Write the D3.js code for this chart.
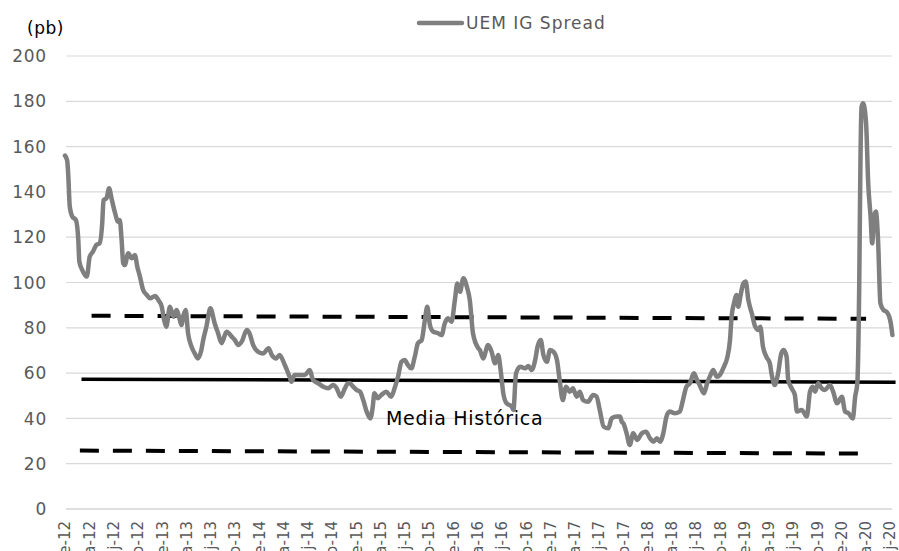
<!DOCTYPE html>
<html>
<head>
<meta charset="utf-8">
<script src="https://cdn.jsdelivr.net/npm/d3@7"></script>
<style>
  body { margin: 0; background: #fff; }
  svg { display: block; font-family: "DejaVu Sans", Verdana, sans-serif; }
</style>
</head>
<body>
<div id="content"></div>
<script>
var width = 899;
var height = 551;

// UEM IG spread (pb)
var dates = [
  "2012-01-01","2012-01-09","2012-01-13","2012-01-19","2012-01-29","2012-02-11","2012-02-20","2012-02-24",
  "2012-03-06","2012-03-23","2012-04-03","2012-04-15","2012-04-28","2012-05-10","2012-05-20","2012-05-25",
  "2012-06-05","2012-06-15","2012-06-24","2012-07-06","2012-07-19","2012-07-25","2012-08-01","2012-08-07",
  "2012-08-13","2012-08-26","2012-09-08","2012-09-20","2012-09-29","2012-10-09","2012-10-21","2012-11-04",
  "2012-11-16","2012-12-05","2012-12-17","2012-12-30","2013-01-08","2013-01-16","2013-01-30","2013-02-12",
  "2013-02-24","2013-03-05","2013-03-14","2013-03-22","2013-03-30","2013-04-08","2013-04-21","2013-05-03",
  "2013-05-15","2013-05-28","2013-06-04","2013-06-16","2013-07-01","2013-07-17","2013-07-30","2013-08-12",
  "2013-08-31","2013-09-19","2013-10-01","2013-10-14","2013-10-27","2013-11-15","2013-11-25","2013-12-09",
  "2013-12-28","2014-01-16","2014-02-05","2014-02-17","2014-03-06","2014-03-18","2014-04-07","2014-04-25",
  "2014-05-02","2014-05-14","2014-06-03","2014-06-21","2014-07-10","2014-07-22","2014-08-11","2014-08-30",
  "2014-09-17","2014-10-06","2014-10-19","2014-11-04","2014-11-19","2014-12-02","2014-12-08","2014-12-20",
  "2015-01-03","2015-01-15","2015-01-27","2015-02-09","2015-02-23","2015-03-04","2015-03-10","2015-03-23",
  "2015-04-05","2015-04-24","2015-05-12","2015-05-25","2015-06-07","2015-06-20","2015-07-02","2015-07-14",
  "2015-07-27","2015-08-09","2015-08-21","2015-09-04","2015-09-16","2015-09-25","2015-10-05","2015-10-17",
  "2015-11-05","2015-11-18","2015-11-30","2015-12-12","2015-12-25","2016-01-07","2016-01-16","2016-01-26",
  "2016-02-08","2016-02-21","2016-03-03","2016-03-15","2016-04-04","2016-04-10","2016-04-22","2016-05-11",
  "2016-05-24","2016-06-06","2016-06-18","2016-06-27","2016-07-07","2016-07-19","2016-08-08","2016-08-14",
  "2016-08-24","2016-09-09","2016-09-27","2016-10-09","2016-10-22","2016-11-04","2016-11-13","2016-11-25",
  "2016-12-05","2016-12-18","2016-12-30","2017-01-12","2017-01-25","2017-02-04","2017-02-16","2017-02-28",
  "2017-03-14","2017-03-26","2017-04-09","2017-04-21","2017-05-03","2017-05-22","2017-06-10","2017-06-23",
  "2017-07-05","2017-07-20","2017-08-06","2017-08-19","2017-09-07","2017-09-19","2017-09-26","2017-10-02",
  "2017-10-14","2017-10-26","2017-11-08","2017-11-23","2017-12-10","2017-12-26","2018-01-10","2018-01-23",
  "2018-02-05","2018-02-17","2018-03-01","2018-03-13","2018-03-25","2018-04-13","2018-05-02","2018-05-14",
  "2018-05-27","2018-06-09","2018-06-24","2018-07-06","2018-07-16","2018-08-01","2018-08-13","2018-08-26",
  "2018-09-05","2018-09-18","2018-09-30","2018-10-15","2018-10-27","2018-11-07","2018-11-13","2018-11-22",
  "2018-12-02","2018-12-08","2018-12-17","2018-12-27","2019-01-05","2019-01-15","2019-01-28","2019-02-10",
  "2019-02-22","2019-03-01","2019-03-11","2019-03-24","2019-04-06","2019-04-12","2019-04-24","2019-05-07",
  "2019-05-19","2019-05-28","2019-06-08","2019-06-14","2019-06-27","2019-07-09","2019-07-17","2019-08-04",
  "2019-08-23","2019-09-04","2019-09-14","2019-09-23","2019-10-05","2019-10-18","2019-10-30","2019-11-18",
  "2019-11-30","2019-12-15","2020-01-02","2020-01-14","2020-01-27","2020-02-12","2020-02-21","2020-02-29",
  "2020-03-07","2020-03-12","2020-03-16","2020-03-22","2020-04-02","2020-04-10","2020-04-19","2020-04-25",
  "2020-05-02","2020-05-09","2020-05-17","2020-05-26","2020-06-06","2020-06-18","2020-06-28","2020-07-04",
  "2020-07-10"
];
var spread = [
  156, 154, 148, 133.5, 129, 127.6, 118.8, 109.2,
  105.5, 102.6, 111.4, 113.6, 116.6, 117.3, 126.1, 136.4,
  137.2, 141.6, 137.2, 131.3, 126.8, 127.6, 118.8, 108.5,
  107.7, 112.9, 110.7, 112.1, 107, 102.6, 96.7, 94.5,
  93, 94, 92.3, 89.3, 83.4, 80.5, 89.3, 84.9,
  87.9, 84.9, 81.2, 85.7, 87.9, 77.6, 71.7, 68.7,
  66.5, 70.2, 74.6, 80.5, 88.6, 82, 77.6, 73.2,
  78.3, 76.1, 74.6, 72.4, 73.9, 79, 77.6, 72.4,
  69.4, 68.7, 71, 68, 66.5, 68, 63.6, 58.4,
  56.2, 59.2, 59.2, 59.2, 61.4, 57, 55.5, 54,
  53.3, 54.7, 53.3, 49.6, 53.3, 55.5, 55.5, 54,
  52.5, 51.8, 48.1, 43, 40, 45.2, 51.1, 48.9,
  50.3, 51.8, 49.6, 53.3, 58.4, 65, 65.8, 63.6,
  62.1, 67.2, 73.2, 74.6, 83.4, 89.3, 81.2, 78.3,
  77.6, 76.8, 82, 84.2, 82.7, 92.3, 99.6, 95.9,
  101.9, 98.1, 92.3, 77.6, 71, 70.2, 66.5, 72.4,
  69.4, 64.3, 68, 61.4, 51.1, 46.7, 45.2, 43.7,
  59.9, 62.8, 62.1, 63.1, 61.4, 65.8, 71.7, 74.6,
  68, 65, 70.2, 69.4, 65.8, 57, 48.1, 54,
  51.8, 53.3, 49.6, 51.8, 48.1, 47.4, 50.3, 49.6,
  43.7, 36.3, 35.6, 40, 40.8, 40.8, 38.5, 37.8,
  33.4, 28.3, 33.4, 30.5, 33.4, 34.1, 31.2, 29.7,
  31.2, 29.7, 33.4, 40.8, 43, 42.3, 43, 48.1,
  54, 55.5, 59.9, 57, 54.7, 51.1, 55.5, 59.2,
  61.4, 58.4, 59.2, 62.8, 66.5, 74.6, 84.9, 90.8,
  94.5, 89.3, 94.5, 99.6, 100.4, 92.3, 86.4, 80.5,
  79, 80.5, 71.7, 67.2, 64.3, 59.9, 54.7, 59.9,
  68.7, 70.2, 67.2, 57, 53.3, 50.3, 43, 43.7,
  40.8, 51.8, 54, 51.8, 55.5, 53.3, 52.5, 54.7,
  51.8, 46.7, 49.6, 43, 42.3, 40, 49.6, 55.5,
  96.7, 155.5, 177.6, 179.1, 170.3, 143.8, 129, 117.3,
  129, 131.3, 118.8, 90.8, 87.9, 87.1, 84.9, 82,
  76.8
];

// reference lines drawn over the chart: [start date, end date, start value, end value]
var refNames = ["upper", "media", "lower"];
var refStart = ["2012-04-10", "2012-03-03", "2012-02-26"];
var refEnd = ["2020-04-02", "2020-07-22", "2020-03-10"];
var refFrom = [85.3, 57.3, 25.8];
var refTo = [84.0, 56.0, 24.5];

var yTicks = [0, 20, 40, 60, 80, 100, 120, 140, 160, 180, 200];
var monthLetters = ["e", "a", "j", "o"];
var tickDates = [];
for (var yr = 2012; yr <= 2020; yr++) {
  for (var q = 0; q < 4; q++) {
    if (yr === 2020 && q > 2) break;
    tickDates.push(new Date(yr, q * 3, 1));
  }
}
var tickLabels = tickDates.map(d => monthLetters[d.getMonth() / 3] + "-" + String(d.getFullYear()).slice(2));

var parse = d3.timeParse("%Y-%m-%d");
var data = dates.map((d, i) => ({ date: parse(d), value: spread[i] }));

var svg = d3.select("#content").append("svg").attr("width", width).attr("height", height);

var x = d3.scaleTime()
  .domain([new Date(2012, 0, 1), new Date(2020, 6, 1)])
  .range([65, 890]);

var y = d3.scaleLinear()
  .domain([0, 200])
  .range([509, 56]);

// gridlines
svg.append("g")
  .selectAll("line")
  .data(yTicks)
  .enter()
  .append("line")
  .attr("x1", 66)
  .attr("x2", 892)
  .attr("y1", d => y(d))
  .attr("y2", d => y(d))
  .attr("stroke", d => d === 0 ? "#bfbfbf" : "#d9d9d9")
  .attr("stroke-width", 1.2);

// y labels
svg.append("g")
  .selectAll("text")
  .data(yTicks)
  .enter()
  .append("text")
  .attr("x", 47)
  .attr("y", d => y(d))
  .attr("dy", "0.36em")
  .attr("text-anchor", "end")
  .attr("fill", "#595959")
  .style("font-size", "17px")
  .style("letter-spacing", "0.8px")
  .text(d => d);

svg.append("text")
  .attr("x", 27)
  .attr("y", 34)
  .attr("fill", "#000")
  .style("font-size", "17px")
  .style("letter-spacing", "0.5px")
  .text("(pb)");

// x labels (rotated, clipped by the window bottom like the original)
svg.append("g")
  .selectAll("text")
  .data(tickDates)
  .enter()
  .append("text")
  .attr("transform", d => `translate(${x(d)}, 521) rotate(-90)`)
  .attr("dy", "0.36em")
  .attr("text-anchor", "end")
  .attr("fill", "#595959")
  .style("font-size", "15px")
  .text((d, i) => tickLabels[i]);

// reference lines
svg.append("g")
  .selectAll("line")
  .data(refNames)
  .enter()
  .append("line")
  .attr("x1", (d, i) => x(parse(refStart[i])))
  .attr("x2", (d, i) => x(parse(refEnd[i])))
  .attr("y1", (d, i) => y(refFrom[i]))
  .attr("y2", (d, i) => y(refTo[i]))
  .attr("stroke", "#000")
  .attr("stroke-width", d => d === "media" ? 3.5 : 4)
  .attr("stroke-dasharray", d => d === "media" ? null : "19,14");

// series
var line = d3.line()
  .x(d => x(d.date))
  .y(d => y(d.value))
  .curve(d3.curveMonotoneX);

svg.append("path")
  .datum(data)
  .attr("d", line)
  .attr("fill", "none")
  .attr("stroke", "#7f7f7f")
  .attr("stroke-width", 4.5)
  .attr("stroke-linejoin", "round")
  .attr("stroke-linecap", "round");

svg.append("text")
  .attr("x", 386)
  .attr("y", 425)
  .attr("fill", "#000")
  .style("font-size", "19px")
  .style("letter-spacing", "0.7px")
  .text("Media Histórica");

// legend
svg.append("line")
  .attr("x1", 419)
  .attr("x2", 462)
  .attr("y1", 23)
  .attr("y2", 23)
  .attr("stroke", "#7f7f7f")
  .attr("stroke-width", 4.5)
  .attr("stroke-linecap", "round");

svg.append("text")
  .attr("x", 466)
  .attr("y", 29)
  .attr("fill", "#595959")
  .style("font-size", "17px")
  .style("letter-spacing", "1px")
  .text("UEM IG Spread");
</script>
</body>
</html>
